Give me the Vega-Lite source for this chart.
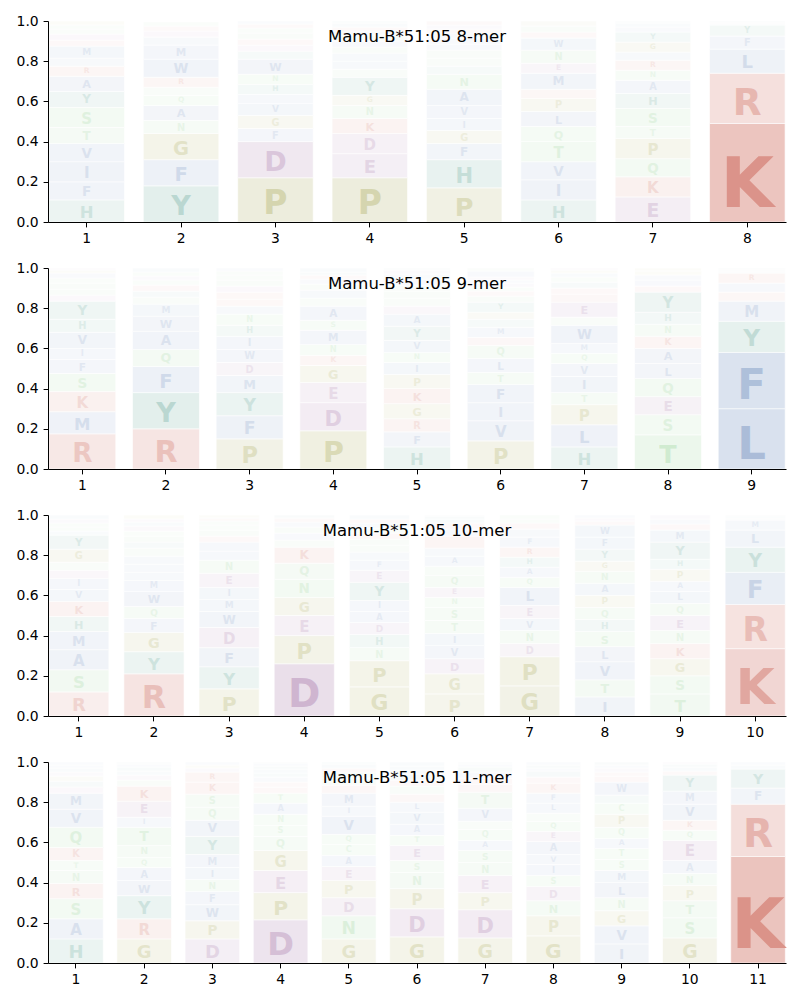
{
"$schema": "https://vega.github.io/schema/vega-lite/v6.json",
"padding": {"left": 16, "top": 14, "right": 5, "bottom": 5},
"spacing": 15,
"config": {
 "view": {"stroke": null},
 "font": "DejaVu Sans",
 "axis": {"domainColor": "#000", "tickColor": "#000", "labelColor": "#000", "labelFontSize": 13.9, "labelFont": "DejaVu Sans", "tickSize": 4.9, "labelPadding": 4.9, "grid": false, "title": null, "domainWidth": 1, "tickWidth": 1, "zindex": 1},
 "title": {"font": "DejaVu Sans", "fontSize": 16.5, "fontWeight": "normal", "color": "#000", "anchor": "middle", "frame": "group", "offset": -31, "baseline": "alphabetic"}
},
"datasets": {
"m8": [
{"pos":1,"aa":"H","h":0.11},{"pos":1,"aa":"F","h":0.09},{"pos":1,"aa":"I","h":0.10},{"pos":1,"aa":"V","h":0.09},{"pos":1,"aa":"T","h":0.08},{"pos":1,"aa":"S","h":0.10},{"pos":1,"aa":"Y","h":0.08},{"pos":1,"aa":"A","h":0.075},{"pos":1,"aa":"R","h":0.05},{"pos":1,"aa":"W","h":0.04},{"pos":1,"aa":"M","h":0.06},{"pos":1,"aa":"K","h":0.03},{"pos":1,"aa":"E","h":0.03},{"pos":1,"aa":"N","h":0.025},{"pos":1,"aa":"Q","h":0.02},{"pos":1,"aa":"G","h":0.02},
{"pos":2,"aa":"Y","h":0.18},{"pos":2,"aa":"F","h":0.13},{"pos":2,"aa":"G","h":0.13},{"pos":2,"aa":"N","h":0.065},{"pos":2,"aa":"A","h":0.075},{"pos":2,"aa":"Q","h":0.05},{"pos":2,"aa":"S","h":0.04},{"pos":2,"aa":"R","h":0.05},{"pos":2,"aa":"W","h":0.09},{"pos":2,"aa":"M","h":0.07},{"pos":2,"aa":"V","h":0.04},{"pos":2,"aa":"E","h":0.03},{"pos":2,"aa":"K","h":0.025},{"pos":2,"aa":"T","h":0.02},
{"pos":3,"aa":"P","h":0.22},{"pos":3,"aa":"D","h":0.18},{"pos":3,"aa":"F","h":0.065},{"pos":3,"aa":"G","h":0.065},{"pos":3,"aa":"V","h":0.06},{"pos":3,"aa":"I","h":0.045},{"pos":3,"aa":"H","h":0.05},{"pos":3,"aa":"N","h":0.05},{"pos":3,"aa":"W","h":0.075},{"pos":3,"aa":"Y","h":0.04},{"pos":3,"aa":"E","h":0.03},{"pos":3,"aa":"K","h":0.03},{"pos":3,"aa":"Q","h":0.03},{"pos":3,"aa":"S","h":0.025},{"pos":3,"aa":"R","h":0.02},{"pos":3,"aa":"A","h":0.015},
{"pos":4,"aa":"P","h":0.22},{"pos":4,"aa":"E","h":0.12},{"pos":4,"aa":"D","h":0.10},{"pos":4,"aa":"K","h":0.075},{"pos":4,"aa":"N","h":0.065},{"pos":4,"aa":"G","h":0.05},{"pos":4,"aa":"Y","h":0.09},{"pos":4,"aa":"Q","h":0.04},{"pos":4,"aa":"I","h":0.04},{"pos":4,"aa":"V","h":0.04},{"pos":4,"aa":"S","h":0.03},{"pos":4,"aa":"A","h":0.03},{"pos":4,"aa":"T","h":0.03},{"pos":4,"aa":"M","h":0.02},{"pos":4,"aa":"R","h":0.02},{"pos":4,"aa":"L","h":0.02},{"pos":4,"aa":"H","h":0.01},
{"pos":5,"aa":"P","h":0.17},{"pos":5,"aa":"H","h":0.14},{"pos":5,"aa":"F","h":0.08},{"pos":5,"aa":"G","h":0.065},{"pos":5,"aa":"I","h":0.06},{"pos":5,"aa":"V","h":0.065},{"pos":5,"aa":"A","h":0.08},{"pos":5,"aa":"N","h":0.075},{"pos":5,"aa":"Y","h":0.04},{"pos":5,"aa":"Q","h":0.04},{"pos":5,"aa":"S","h":0.04},{"pos":5,"aa":"L","h":0.03},{"pos":5,"aa":"W","h":0.03},{"pos":5,"aa":"M","h":0.025},{"pos":5,"aa":"K","h":0.02},{"pos":5,"aa":"E","h":0.02},{"pos":5,"aa":"R","h":0.02},
{"pos":6,"aa":"H","h":0.11},{"pos":6,"aa":"I","h":0.10},{"pos":6,"aa":"V","h":0.09},{"pos":6,"aa":"T","h":0.10},{"pos":6,"aa":"Q","h":0.075},{"pos":6,"aa":"L","h":0.075},{"pos":6,"aa":"P","h":0.065},{"pos":6,"aa":"R","h":0.045},{"pos":6,"aa":"M","h":0.08},{"pos":6,"aa":"E","h":0.05},{"pos":6,"aa":"N","h":0.065},{"pos":6,"aa":"W","h":0.06},{"pos":6,"aa":"K","h":0.03},{"pos":6,"aa":"S","h":0.03},{"pos":6,"aa":"G","h":0.025},
{"pos":7,"aa":"E","h":0.125},{"pos":7,"aa":"K","h":0.10},{"pos":7,"aa":"Q","h":0.09},{"pos":7,"aa":"P","h":0.10},{"pos":7,"aa":"T","h":0.06},{"pos":7,"aa":"S","h":0.09},{"pos":7,"aa":"H","h":0.075},{"pos":7,"aa":"A","h":0.065},{"pos":7,"aa":"N","h":0.05},{"pos":7,"aa":"R","h":0.05},{"pos":7,"aa":"I","h":0.04},{"pos":7,"aa":"G","h":0.05},{"pos":7,"aa":"Y","h":0.05},{"pos":7,"aa":"F","h":0.025},{"pos":7,"aa":"L","h":0.02},{"pos":7,"aa":"M","h":0.01},
{"pos":8,"aa":"K","h":0.49},{"pos":8,"aa":"R","h":0.25},{"pos":8,"aa":"L","h":0.12},{"pos":8,"aa":"F","h":0.065},{"pos":8,"aa":"Y","h":0.055},{"pos":8,"aa":"M","h":0.01},{"pos":8,"aa":"I","h":0.005},{"pos":8,"aa":"H","h":0.005}
],
"m9": [
{"pos":1,"aa":"R","h":0.175},{"pos":1,"aa":"M","h":0.11},{"pos":1,"aa":"K","h":0.10},{"pos":1,"aa":"S","h":0.09},{"pos":1,"aa":"F","h":0.07},{"pos":1,"aa":"I","h":0.055},{"pos":1,"aa":"V","h":0.08},{"pos":1,"aa":"H","h":0.065},{"pos":1,"aa":"Y","h":0.09},{"pos":1,"aa":"E","h":0.03},{"pos":1,"aa":"N","h":0.03},{"pos":1,"aa":"Q","h":0.03},{"pos":1,"aa":"T","h":0.025},{"pos":1,"aa":"A","h":0.025},{"pos":1,"aa":"G","h":0.015},{"pos":1,"aa":"D","h":0.01},
{"pos":2,"aa":"R","h":0.20},{"pos":2,"aa":"Y","h":0.18},{"pos":2,"aa":"F","h":0.13},{"pos":2,"aa":"Q","h":0.085},{"pos":2,"aa":"A","h":0.09},{"pos":2,"aa":"W","h":0.075},{"pos":2,"aa":"M","h":0.06},{"pos":2,"aa":"N","h":0.035},{"pos":2,"aa":"H","h":0.03},{"pos":2,"aa":"K","h":0.03},{"pos":2,"aa":"T","h":0.025},{"pos":2,"aa":"E","h":0.02},{"pos":2,"aa":"S","h":0.02},{"pos":2,"aa":"V","h":0.02},
{"pos":3,"aa":"P","h":0.15},{"pos":3,"aa":"F","h":0.115},{"pos":3,"aa":"Y","h":0.115},{"pos":3,"aa":"M","h":0.085},{"pos":3,"aa":"D","h":0.065},{"pos":3,"aa":"W","h":0.065},{"pos":3,"aa":"I","h":0.065},{"pos":3,"aa":"H","h":0.055},{"pos":3,"aa":"N","h":0.055},{"pos":3,"aa":"V","h":0.04},{"pos":3,"aa":"K","h":0.035},{"pos":3,"aa":"R","h":0.035},{"pos":3,"aa":"E","h":0.03},{"pos":3,"aa":"Q","h":0.03},{"pos":3,"aa":"T","h":0.025},{"pos":3,"aa":"S","h":0.02},{"pos":3,"aa":"A","h":0.015},
{"pos":4,"aa":"P","h":0.19},{"pos":4,"aa":"D","h":0.14},{"pos":4,"aa":"E","h":0.10},{"pos":4,"aa":"G","h":0.085},{"pos":4,"aa":"K","h":0.05},{"pos":4,"aa":"N","h":0.055},{"pos":4,"aa":"M","h":0.07},{"pos":4,"aa":"S","h":0.05},{"pos":4,"aa":"A","h":0.07},{"pos":4,"aa":"Q","h":0.04},{"pos":4,"aa":"V","h":0.04},{"pos":4,"aa":"T","h":0.03},{"pos":4,"aa":"I","h":0.025},{"pos":4,"aa":"R","h":0.02},{"pos":4,"aa":"H","h":0.015},{"pos":4,"aa":"L","h":0.02},
{"pos":5,"aa":"H","h":0.11},{"pos":5,"aa":"F","h":0.075},{"pos":5,"aa":"R","h":0.065},{"pos":5,"aa":"G","h":0.075},{"pos":5,"aa":"K","h":0.075},{"pos":5,"aa":"P","h":0.07},{"pos":5,"aa":"I","h":0.06},{"pos":5,"aa":"N","h":0.05},{"pos":5,"aa":"V","h":0.06},{"pos":5,"aa":"Y","h":0.07},{"pos":5,"aa":"A","h":0.06},{"pos":5,"aa":"E","h":0.04},{"pos":5,"aa":"Q","h":0.04},{"pos":5,"aa":"S","h":0.035},{"pos":5,"aa":"T","h":0.03},{"pos":5,"aa":"M","h":0.03},{"pos":5,"aa":"L","h":0.025},{"pos":5,"aa":"D","h":0.02},{"pos":5,"aa":"W","h":0.01},
{"pos":6,"aa":"P","h":0.14},{"pos":6,"aa":"V","h":0.10},{"pos":6,"aa":"I","h":0.09},{"pos":6,"aa":"F","h":0.09},{"pos":6,"aa":"T","h":0.06},{"pos":6,"aa":"L","h":0.07},{"pos":6,"aa":"Q","h":0.065},{"pos":6,"aa":"R","h":0.04},{"pos":6,"aa":"M","h":0.05},{"pos":6,"aa":"H","h":0.04},{"pos":6,"aa":"G","h":0.035},{"pos":6,"aa":"Y","h":0.05},{"pos":6,"aa":"N","h":0.03},{"pos":6,"aa":"K","h":0.025},{"pos":6,"aa":"S","h":0.02},{"pos":6,"aa":"E","h":0.02},{"pos":6,"aa":"A","h":0.015},{"pos":6,"aa":"D","h":0.015},{"pos":6,"aa":"W","h":0.03},{"pos":6,"aa":"C","h":0.015},
{"pos":7,"aa":"H","h":0.11},{"pos":7,"aa":"L","h":0.11},{"pos":7,"aa":"P","h":0.10},{"pos":7,"aa":"T","h":0.06},{"pos":7,"aa":"I","h":0.08},{"pos":7,"aa":"V","h":0.065},{"pos":7,"aa":"Q","h":0.05},{"pos":7,"aa":"M","h":0.05},{"pos":7,"aa":"W","h":0.09},{"pos":7,"aa":"N","h":0.04},{"pos":7,"aa":"E","h":0.075},{"pos":7,"aa":"R","h":0.04},{"pos":7,"aa":"K","h":0.03},{"pos":7,"aa":"Y","h":0.03},{"pos":7,"aa":"S","h":0.025},{"pos":7,"aa":"A","h":0.02},{"pos":7,"aa":"G","h":0.015},{"pos":7,"aa":"D","h":0.01},
{"pos":8,"aa":"T","h":0.17},{"pos":8,"aa":"S","h":0.10},{"pos":8,"aa":"E","h":0.09},{"pos":8,"aa":"Q","h":0.09},{"pos":8,"aa":"L","h":0.075},{"pos":8,"aa":"A","h":0.075},{"pos":8,"aa":"K","h":0.06},{"pos":8,"aa":"N","h":0.06},{"pos":8,"aa":"H","h":0.06},{"pos":8,"aa":"Y","h":0.10},{"pos":8,"aa":"R","h":0.03},{"pos":8,"aa":"M","h":0.03},{"pos":8,"aa":"V","h":0.025},{"pos":8,"aa":"G","h":0.02},{"pos":8,"aa":"P","h":0.015},
{"pos":9,"aa":"L","h":0.30},{"pos":9,"aa":"F","h":0.28},{"pos":9,"aa":"Y","h":0.155},{"pos":9,"aa":"M","h":0.10},{"pos":9,"aa":"K","h":0.045},{"pos":9,"aa":"I","h":0.045},{"pos":9,"aa":"R","h":0.05},{"pos":9,"aa":"V","h":0.01},{"pos":9,"aa":"W","h":0.01},{"pos":9,"aa":"H","h":0.005}
],
"m10": [
{"pos":1,"aa":"R","h":0.12},{"pos":1,"aa":"S","h":0.11},{"pos":1,"aa":"A","h":0.10},{"pos":1,"aa":"M","h":0.09},{"pos":1,"aa":"H","h":0.075},{"pos":1,"aa":"K","h":0.075},{"pos":1,"aa":"V","h":0.06},{"pos":1,"aa":"I","h":0.055},{"pos":1,"aa":"E","h":0.04},{"pos":1,"aa":"T","h":0.04},{"pos":1,"aa":"G","h":0.065},{"pos":1,"aa":"Y","h":0.07},{"pos":1,"aa":"W","h":0.02},{"pos":1,"aa":"Q","h":0.02},{"pos":1,"aa":"N","h":0.02},{"pos":1,"aa":"D","h":0.02},{"pos":1,"aa":"L","h":0.02},
{"pos":2,"aa":"R","h":0.21},{"pos":2,"aa":"Y","h":0.11},{"pos":2,"aa":"G","h":0.095},{"pos":2,"aa":"F","h":0.07},{"pos":2,"aa":"Q","h":0.06},{"pos":2,"aa":"W","h":0.075},{"pos":2,"aa":"M","h":0.055},{"pos":2,"aa":"V","h":0.04},{"pos":2,"aa":"A","h":0.04},{"pos":2,"aa":"I","h":0.04},{"pos":2,"aa":"T","h":0.04},{"pos":2,"aa":"H","h":0.03},{"pos":2,"aa":"N","h":0.03},{"pos":2,"aa":"S","h":0.025},{"pos":2,"aa":"E","h":0.025},{"pos":2,"aa":"L","h":0.02},{"pos":2,"aa":"D","h":0.015},{"pos":2,"aa":"P","h":0.02},
{"pos":3,"aa":"P","h":0.135},{"pos":3,"aa":"Y","h":0.11},{"pos":3,"aa":"F","h":0.095},{"pos":3,"aa":"D","h":0.10},{"pos":3,"aa":"W","h":0.08},{"pos":3,"aa":"M","h":0.06},{"pos":3,"aa":"I","h":0.06},{"pos":3,"aa":"E","h":0.07},{"pos":3,"aa":"N","h":0.065},{"pos":3,"aa":"V","h":0.045},{"pos":3,"aa":"A","h":0.045},{"pos":3,"aa":"K","h":0.03},{"pos":3,"aa":"Q","h":0.03},{"pos":3,"aa":"S","h":0.025},{"pos":3,"aa":"T","h":0.02},{"pos":3,"aa":"R","h":0.015},{"pos":3,"aa":"G","h":0.015},
{"pos":4,"aa":"D","h":0.26},{"pos":4,"aa":"P","h":0.14},{"pos":4,"aa":"E","h":0.10},{"pos":4,"aa":"G","h":0.09},{"pos":4,"aa":"N","h":0.09},{"pos":4,"aa":"Q","h":0.08},{"pos":4,"aa":"K","h":0.08},{"pos":4,"aa":"S","h":0.035},{"pos":4,"aa":"A","h":0.035},{"pos":4,"aa":"T","h":0.03},{"pos":4,"aa":"V","h":0.025},{"pos":4,"aa":"R","h":0.02},{"pos":4,"aa":"Y","h":0.015},
{"pos":5,"aa":"G","h":0.145},{"pos":5,"aa":"P","h":0.13},{"pos":5,"aa":"N","h":0.065},{"pos":5,"aa":"H","h":0.065},{"pos":5,"aa":"D","h":0.06},{"pos":5,"aa":"A","h":0.055},{"pos":5,"aa":"I","h":0.055},{"pos":5,"aa":"Y","h":0.09},{"pos":5,"aa":"E","h":0.06},{"pos":5,"aa":"F","h":0.05},{"pos":5,"aa":"V","h":0.04},{"pos":5,"aa":"T","h":0.035},{"pos":5,"aa":"S","h":0.03},{"pos":5,"aa":"K","h":0.03},{"pos":5,"aa":"Q","h":0.025},{"pos":5,"aa":"L","h":0.025},{"pos":5,"aa":"R","h":0.02},{"pos":5,"aa":"M","h":0.02},
{"pos":6,"aa":"P","h":0.11},{"pos":6,"aa":"G","h":0.10},{"pos":6,"aa":"D","h":0.075},{"pos":6,"aa":"V","h":0.065},{"pos":6,"aa":"I","h":0.06},{"pos":6,"aa":"T","h":0.065},{"pos":6,"aa":"S","h":0.065},{"pos":6,"aa":"N","h":0.05},{"pos":6,"aa":"E","h":0.05},{"pos":6,"aa":"Q","h":0.06},{"pos":6,"aa":"C","h":0.045},{"pos":6,"aa":"A","h":0.05},{"pos":6,"aa":"L","h":0.04},{"pos":6,"aa":"K","h":0.06},{"pos":6,"aa":"M","h":0.035},{"pos":6,"aa":"R","h":0.03},{"pos":6,"aa":"Y","h":0.02},{"pos":6,"aa":"H","h":0.015},{"pos":6,"aa":"F","h":0.005},
{"pos":7,"aa":"G","h":0.15},{"pos":7,"aa":"P","h":0.145},{"pos":7,"aa":"D","h":0.065},{"pos":7,"aa":"N","h":0.065},{"pos":7,"aa":"V","h":0.06},{"pos":7,"aa":"E","h":0.065},{"pos":7,"aa":"L","h":0.09},{"pos":7,"aa":"Q","h":0.05},{"pos":7,"aa":"A","h":0.05},{"pos":7,"aa":"H","h":0.05},{"pos":7,"aa":"R","h":0.05},{"pos":7,"aa":"F","h":0.05},{"pos":7,"aa":"M","h":0.04},{"pos":7,"aa":"K","h":0.03},{"pos":7,"aa":"S","h":0.02},{"pos":7,"aa":"T","h":0.02},
{"pos":8,"aa":"I","h":0.095},{"pos":8,"aa":"T","h":0.085},{"pos":8,"aa":"V","h":0.09},{"pos":8,"aa":"L","h":0.075},{"pos":8,"aa":"S","h":0.075},{"pos":8,"aa":"H","h":0.06},{"pos":8,"aa":"Q","h":0.06},{"pos":8,"aa":"P","h":0.06},{"pos":8,"aa":"A","h":0.06},{"pos":8,"aa":"N","h":0.06},{"pos":8,"aa":"G","h":0.05},{"pos":8,"aa":"Y","h":0.06},{"pos":8,"aa":"F","h":0.06},{"pos":8,"aa":"W","h":0.06},{"pos":8,"aa":"K","h":0.02},{"pos":8,"aa":"E","h":0.015},{"pos":8,"aa":"M","h":0.015},
{"pos":9,"aa":"T","h":0.11},{"pos":9,"aa":"S","h":0.09},{"pos":9,"aa":"G","h":0.085},{"pos":9,"aa":"K","h":0.075},{"pos":9,"aa":"N","h":0.065},{"pos":9,"aa":"E","h":0.075},{"pos":9,"aa":"Q","h":0.06},{"pos":9,"aa":"L","h":0.06},{"pos":9,"aa":"A","h":0.05},{"pos":9,"aa":"P","h":0.06},{"pos":9,"aa":"H","h":0.05},{"pos":9,"aa":"Y","h":0.085},{"pos":9,"aa":"M","h":0.06},{"pos":9,"aa":"R","h":0.03},{"pos":9,"aa":"V","h":0.025},{"pos":9,"aa":"D","h":0.02},
{"pos":10,"aa":"K","h":0.335},{"pos":10,"aa":"R","h":0.22},{"pos":10,"aa":"F","h":0.16},{"pos":10,"aa":"Y","h":0.125},{"pos":10,"aa":"L","h":0.085},{"pos":10,"aa":"M","h":0.05},{"pos":10,"aa":"I","h":0.01},{"pos":10,"aa":"H","h":0.01},{"pos":10,"aa":"V","h":0.005}
],
"m11": [
{"pos":1,"aa":"H","h":0.12},{"pos":1,"aa":"A","h":0.10},{"pos":1,"aa":"S","h":0.10},{"pos":1,"aa":"R","h":0.075},{"pos":1,"aa":"N","h":0.065},{"pos":1,"aa":"T","h":0.05},{"pos":1,"aa":"K","h":0.065},{"pos":1,"aa":"Q","h":0.10},{"pos":1,"aa":"V","h":0.09},{"pos":1,"aa":"M","h":0.08},{"pos":1,"aa":"E","h":0.03},{"pos":1,"aa":"Y","h":0.03},{"pos":1,"aa":"G","h":0.025},{"pos":1,"aa":"D","h":0.02},{"pos":1,"aa":"F","h":0.02},{"pos":1,"aa":"L","h":0.015},{"pos":1,"aa":"I","h":0.015},
{"pos":2,"aa":"G","h":0.12},{"pos":2,"aa":"R","h":0.10},{"pos":2,"aa":"Y","h":0.115},{"pos":2,"aa":"W","h":0.075},{"pos":2,"aa":"A","h":0.065},{"pos":2,"aa":"Q","h":0.05},{"pos":2,"aa":"N","h":0.06},{"pos":2,"aa":"T","h":0.09},{"pos":2,"aa":"I","h":0.05},{"pos":2,"aa":"E","h":0.08},{"pos":2,"aa":"K","h":0.075},{"pos":2,"aa":"S","h":0.03},{"pos":2,"aa":"D","h":0.025},{"pos":2,"aa":"L","h":0.02},{"pos":2,"aa":"H","h":0.02},{"pos":2,"aa":"M","h":0.015},{"pos":2,"aa":"F","h":0.01},
{"pos":3,"aa":"D","h":0.12},{"pos":3,"aa":"P","h":0.09},{"pos":3,"aa":"W","h":0.08},{"pos":3,"aa":"F","h":0.065},{"pos":3,"aa":"N","h":0.06},{"pos":3,"aa":"I","h":0.06},{"pos":3,"aa":"M","h":0.065},{"pos":3,"aa":"Y","h":0.09},{"pos":3,"aa":"V","h":0.08},{"pos":3,"aa":"Q","h":0.065},{"pos":3,"aa":"S","h":0.065},{"pos":3,"aa":"K","h":0.06},{"pos":3,"aa":"R","h":0.05},{"pos":3,"aa":"E","h":0.02},{"pos":3,"aa":"G","h":0.015},{"pos":3,"aa":"A","h":0.015},
{"pos":4,"aa":"D","h":0.215},{"pos":4,"aa":"P","h":0.135},{"pos":4,"aa":"E","h":0.11},{"pos":4,"aa":"G","h":0.10},{"pos":4,"aa":"Q","h":0.07},{"pos":4,"aa":"S","h":0.055},{"pos":4,"aa":"N","h":0.055},{"pos":4,"aa":"A","h":0.055},{"pos":4,"aa":"T","h":0.05},{"pos":4,"aa":"K","h":0.03},{"pos":4,"aa":"R","h":0.025},{"pos":4,"aa":"V","h":0.025},{"pos":4,"aa":"Y","h":0.02},{"pos":4,"aa":"L","h":0.02},{"pos":4,"aa":"H","h":0.015},{"pos":4,"aa":"I","h":0.015},{"pos":4,"aa":"M","h":0.005},
{"pos":5,"aa":"G","h":0.12},{"pos":5,"aa":"N","h":0.115},{"pos":5,"aa":"D","h":0.09},{"pos":5,"aa":"P","h":0.085},{"pos":5,"aa":"E","h":0.07},{"pos":5,"aa":"A","h":0.055},{"pos":5,"aa":"C","h":0.055},{"pos":5,"aa":"Q","h":0.05},{"pos":5,"aa":"V","h":0.09},{"pos":5,"aa":"I","h":0.05},{"pos":5,"aa":"M","h":0.065},{"pos":5,"aa":"K","h":0.04},{"pos":5,"aa":"S","h":0.035},{"pos":5,"aa":"T","h":0.03},{"pos":5,"aa":"R","h":0.02},{"pos":5,"aa":"L","h":0.02},{"pos":5,"aa":"Y","h":0.01},
{"pos":6,"aa":"G","h":0.13},{"pos":6,"aa":"D","h":0.14},{"pos":6,"aa":"P","h":0.10},{"pos":6,"aa":"N","h":0.08},{"pos":6,"aa":"S","h":0.06},{"pos":6,"aa":"E","h":0.075},{"pos":6,"aa":"T","h":0.05},{"pos":6,"aa":"A","h":0.055},{"pos":6,"aa":"V","h":0.06},{"pos":6,"aa":"L","h":0.05},{"pos":6,"aa":"K","h":0.04},{"pos":6,"aa":"Q","h":0.04},{"pos":6,"aa":"R","h":0.03},{"pos":6,"aa":"Y","h":0.03},{"pos":6,"aa":"I","h":0.02},{"pos":6,"aa":"M","h":0.02},{"pos":6,"aa":"F","h":0.02},
{"pos":7,"aa":"G","h":0.125},{"pos":7,"aa":"D","h":0.14},{"pos":7,"aa":"P","h":0.085},{"pos":7,"aa":"E","h":0.085},{"pos":7,"aa":"N","h":0.065},{"pos":7,"aa":"S","h":0.06},{"pos":7,"aa":"A","h":0.05},{"pos":7,"aa":"Q","h":0.055},{"pos":7,"aa":"C","h":0.04},{"pos":7,"aa":"V","h":0.065},{"pos":7,"aa":"T","h":0.08},{"pos":7,"aa":"K","h":0.04},{"pos":7,"aa":"R","h":0.03},{"pos":7,"aa":"L","h":0.03},{"pos":7,"aa":"Y","h":0.025},{"pos":7,"aa":"I","h":0.015},{"pos":7,"aa":"M","h":0.01},
{"pos":8,"aa":"G","h":0.135},{"pos":8,"aa":"P","h":0.10},{"pos":8,"aa":"N","h":0.075},{"pos":8,"aa":"D","h":0.07},{"pos":8,"aa":"S","h":0.055},{"pos":8,"aa":"I","h":0.055},{"pos":8,"aa":"V","h":0.05},{"pos":8,"aa":"A","h":0.065},{"pos":8,"aa":"E","h":0.05},{"pos":8,"aa":"Q","h":0.05},{"pos":8,"aa":"T","h":0.04},{"pos":8,"aa":"L","h":0.05},{"pos":8,"aa":"F","h":0.05},{"pos":8,"aa":"K","h":0.05},{"pos":8,"aa":"R","h":0.03},{"pos":8,"aa":"Y","h":0.03},{"pos":8,"aa":"M","h":0.015},{"pos":8,"aa":"H","h":0.015},{"pos":8,"aa":"W","h":0.015},
{"pos":9,"aa":"I","h":0.095},{"pos":9,"aa":"V","h":0.09},{"pos":9,"aa":"G","h":0.075},{"pos":9,"aa":"N","h":0.065},{"pos":9,"aa":"L","h":0.075},{"pos":9,"aa":"M","h":0.06},{"pos":9,"aa":"S","h":0.055},{"pos":9,"aa":"T","h":0.055},{"pos":9,"aa":"A","h":0.05},{"pos":9,"aa":"Q","h":0.055},{"pos":9,"aa":"P","h":0.065},{"pos":9,"aa":"C","h":0.055},{"pos":9,"aa":"H","h":0.04},{"pos":9,"aa":"W","h":0.065},{"pos":9,"aa":"K","h":0.03},{"pos":9,"aa":"R","h":0.02},{"pos":9,"aa":"E","h":0.02},{"pos":9,"aa":"F","h":0.015},{"pos":9,"aa":"Y","h":0.015},
{"pos":10,"aa":"G","h":0.125},{"pos":10,"aa":"S","h":0.10},{"pos":10,"aa":"T","h":0.085},{"pos":10,"aa":"P","h":0.075},{"pos":10,"aa":"N","h":0.06},{"pos":10,"aa":"A","h":0.065},{"pos":10,"aa":"E","h":0.10},{"pos":10,"aa":"Q","h":0.05},{"pos":10,"aa":"K","h":0.05},{"pos":10,"aa":"V","h":0.08},{"pos":10,"aa":"M","h":0.065},{"pos":10,"aa":"Y","h":0.08},{"pos":10,"aa":"R","h":0.02},{"pos":10,"aa":"L","h":0.02},{"pos":10,"aa":"H","h":0.015},{"pos":10,"aa":"D","h":0.01},
{"pos":11,"aa":"K","h":0.53},{"pos":11,"aa":"R","h":0.26},{"pos":11,"aa":"F","h":0.08},{"pos":11,"aa":"Y","h":0.095},{"pos":11,"aa":"M","h":0.02},{"pos":11,"aa":"L","h":0.015}
]
},
"vconcat": [
{
 "width": 738, "height": 201,
 "title": {"text": "Mamu-B*51:05 8-mer"},
 "data": {"name": "m8"},
 "transform": [{"stack": "h", "groupby": ["pos"], "as": ["y0", "y1"]}],
 "encoding": {
  "x": {"field": "pos", "type": "ordinal", "scale": {"paddingInner": 0.2, "paddingOuter": 0.01}, "axis": {"labelAngle": 0, "zindex": 2}},
  "y": {"field": "y0", "type": "quantitative", "scale": {"domain": [0, 1], "nice": false}, "axis": {"values": [0, 0.2, 0.4, 0.6, 0.8, 1.0], "format": ".1f", "zindex": 2}},
  "color": {"field": "aa", "type": "nominal", "legend": null, "scale": {"domain": ["K","R","A","V","L","I","M","F","W","Y","H","P","G","D","E","S","T","N","Q","C"], "range": ["#db9389","#db9389","#8fa7cc","#8fa7cc","#8fa7cc","#8fa7cc","#8fa7cc","#8fa7cc","#8fa7cc","#7cb4a8","#7cb4a8","#bbbb7b","#bbbb7b","#b994bb","#b994bb","#a3d7a3","#a3d7a3","#a3d7a3","#a3d7a3","#a3d7a3"]}}
 },
 "layer": [
  {"mark": {"type": "bar", "stroke": "white", "strokeWidth": 0.6}, "encoding": {"y2": {"field": "y1"}, "fillOpacity": {"field": "h", "type": "quantitative", "legend": null, "scale": {"domain": [0, 0.5], "range": [0.03, 0.55], "clamp": true}}}},
  {"transform": [{"filter": "datum.h >= 0.05 && !(datum.y1 > 0.86 && datum.pos >= 4 && datum.pos <= 5)"}], "mark": {"type": "text", "baseline": "bottom", "align": "center", "dy": -1, "font": "DejaVu Sans", "fontWeight": "bold"}, "encoding": {"text": {"field": "aa"}, "size": {"field": "h", "type": "quantitative", "legend": null, "scale": {"domain": [0, 0.46], "range": [0, 69], "clamp": true}}, "opacity": {"field": "h", "type": "quantitative", "legend": null, "scale": {"domain": [0, 0.5], "range": [0.05, 1], "clamp": true}}}}
 ]
},
{
 "width": 738, "height": 201,
 "title": {"text": "Mamu-B*51:05 9-mer"},
 "data": {"name": "m9"},
 "transform": [{"stack": "h", "groupby": ["pos"], "as": ["y0", "y1"]}],
 "encoding": {
  "x": {"field": "pos", "type": "ordinal", "scale": {"paddingInner": 0.2, "paddingOuter": 0.01}, "axis": {"labelAngle": 0, "zindex": 2}},
  "y": {"field": "y0", "type": "quantitative", "scale": {"domain": [0, 1], "nice": false}, "axis": {"values": [0, 0.2, 0.4, 0.6, 0.8, 1.0], "format": ".1f", "zindex": 2}},
  "color": {"field": "aa", "type": "nominal", "legend": null, "scale": {"domain": ["K","R","A","V","L","I","M","F","W","Y","H","P","G","D","E","S","T","N","Q","C"], "range": ["#db9389","#db9389","#8fa7cc","#8fa7cc","#8fa7cc","#8fa7cc","#8fa7cc","#8fa7cc","#8fa7cc","#7cb4a8","#7cb4a8","#bbbb7b","#bbbb7b","#b994bb","#b994bb","#a3d7a3","#a3d7a3","#a3d7a3","#a3d7a3","#a3d7a3"]}}
 },
 "layer": [
  {"mark": {"type": "bar", "stroke": "white", "strokeWidth": 0.6}, "encoding": {"y2": {"field": "y1"}, "fillOpacity": {"field": "h", "type": "quantitative", "legend": null, "scale": {"domain": [0, 0.5], "range": [0.03, 0.55], "clamp": true}}}},
  {"transform": [{"filter": "datum.h >= 0.05 && !(datum.y1 > 0.86 && datum.pos >= 4 && datum.pos <= 6)"}], "mark": {"type": "text", "baseline": "bottom", "align": "center", "dy": -1, "font": "DejaVu Sans", "fontWeight": "bold"}, "encoding": {"text": {"field": "aa"}, "size": {"field": "h", "type": "quantitative", "legend": null, "scale": {"domain": [0, 0.46], "range": [0, 69], "clamp": true}}, "opacity": {"field": "h", "type": "quantitative", "legend": null, "scale": {"domain": [0, 0.5], "range": [0.05, 1], "clamp": true}}}}
 ]
},
{
 "width": 738, "height": 201,
 "title": {"text": "Mamu-B*51:05 10-mer"},
 "data": {"name": "m10"},
 "transform": [{"stack": "h", "groupby": ["pos"], "as": ["y0", "y1"]}],
 "encoding": {
  "x": {"field": "pos", "type": "ordinal", "scale": {"paddingInner": 0.2, "paddingOuter": 0.01}, "axis": {"labelAngle": 0, "zindex": 2}},
  "y": {"field": "y0", "type": "quantitative", "scale": {"domain": [0, 1], "nice": false}, "axis": {"values": [0, 0.2, 0.4, 0.6, 0.8, 1.0], "format": ".1f", "zindex": 2}},
  "color": {"field": "aa", "type": "nominal", "legend": null, "scale": {"domain": ["K","R","A","V","L","I","M","F","W","Y","H","P","G","D","E","S","T","N","Q","C"], "range": ["#db9389","#db9389","#8fa7cc","#8fa7cc","#8fa7cc","#8fa7cc","#8fa7cc","#8fa7cc","#8fa7cc","#7cb4a8","#7cb4a8","#bbbb7b","#bbbb7b","#b994bb","#b994bb","#a3d7a3","#a3d7a3","#a3d7a3","#a3d7a3","#a3d7a3"]}}
 },
 "layer": [
  {"mark": {"type": "bar", "stroke": "white", "strokeWidth": 0.6}, "encoding": {"y2": {"field": "y1"}, "fillOpacity": {"field": "h", "type": "quantitative", "legend": null, "scale": {"domain": [0, 0.5], "range": [0.03, 0.55], "clamp": true}}}},
  {"transform": [{"filter": "datum.h >= 0.05 && !(datum.y1 > 0.86 && datum.pos >= 4 && datum.pos <= 6)"}], "mark": {"type": "text", "baseline": "bottom", "align": "center", "dy": -1, "font": "DejaVu Sans", "fontWeight": "bold"}, "encoding": {"text": {"field": "aa"}, "size": {"field": "h", "type": "quantitative", "legend": null, "scale": {"domain": [0, 0.46], "range": [0, 69], "clamp": true}}, "opacity": {"field": "h", "type": "quantitative", "legend": null, "scale": {"domain": [0, 0.5], "range": [0.05, 1], "clamp": true}}}}
 ]
},
{
 "width": 738, "height": 201,
 "title": {"text": "Mamu-B*51:05 11-mer"},
 "data": {"name": "m11"},
 "transform": [{"stack": "h", "groupby": ["pos"], "as": ["y0", "y1"]}],
 "encoding": {
  "x": {"field": "pos", "type": "ordinal", "scale": {"paddingInner": 0.2, "paddingOuter": 0.01}, "axis": {"labelAngle": 0, "zindex": 2}},
  "y": {"field": "y0", "type": "quantitative", "scale": {"domain": [0, 1], "nice": false}, "axis": {"values": [0, 0.2, 0.4, 0.6, 0.8, 1.0], "format": ".1f", "zindex": 2}},
  "color": {"field": "aa", "type": "nominal", "legend": null, "scale": {"domain": ["K","R","A","V","L","I","M","F","W","Y","H","P","G","D","E","S","T","N","Q","C"], "range": ["#db9389","#db9389","#8fa7cc","#8fa7cc","#8fa7cc","#8fa7cc","#8fa7cc","#8fa7cc","#8fa7cc","#7cb4a8","#7cb4a8","#bbbb7b","#bbbb7b","#b994bb","#b994bb","#a3d7a3","#a3d7a3","#a3d7a3","#a3d7a3","#a3d7a3"]}}
 },
 "layer": [
  {"mark": {"type": "bar", "stroke": "white", "strokeWidth": 0.6}, "encoding": {"y2": {"field": "y1"}, "fillOpacity": {"field": "h", "type": "quantitative", "legend": null, "scale": {"domain": [0, 0.5], "range": [0.03, 0.55], "clamp": true}}}},
  {"transform": [{"filter": "datum.h >= 0.05 && !(datum.y1 > 0.86 && datum.pos >= 4 && datum.pos <= 7)"}], "mark": {"type": "text", "baseline": "bottom", "align": "center", "dy": -1, "font": "DejaVu Sans", "fontWeight": "bold"}, "encoding": {"text": {"field": "aa"}, "size": {"field": "h", "type": "quantitative", "legend": null, "scale": {"domain": [0, 0.46], "range": [0, 69], "clamp": true}}, "opacity": {"field": "h", "type": "quantitative", "legend": null, "scale": {"domain": [0, 0.5], "range": [0.05, 1], "clamp": true}}}}
 ]
}
]
}
